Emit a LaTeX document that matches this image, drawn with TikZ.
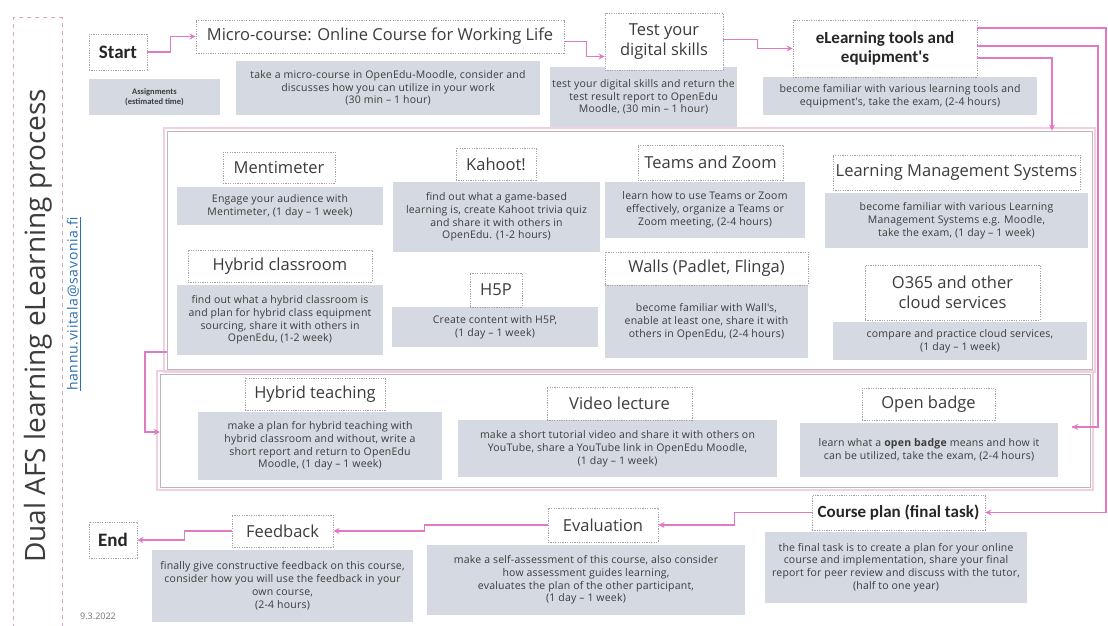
\documentclass[tikz,border=0pt]{standalone}
\usepackage{fontspec}
\setmainfont{Open Sans}
\newfontfamily\calfont{Carlito}
\newfontfamily\mailfont[LetterSpace=5]{Open Sans}
\newfontfamily\descfont[LetterSpace=2]{Open Sans}
\usetikzlibrary{arrows.meta,calc}
\definecolor{pinkc}{HTML}{E07AC6}
\definecolor{pinkdash}{HTML}{E6A2C4}
\definecolor{descfill}{HTML}{D5D9E1}
\definecolor{ttlgray}{HTML}{A9A1A9}
\definecolor{txtgray}{HTML}{3C3C3C}
\definecolor{framegray}{HTML}{BDB6BC}
\definecolor{framepink}{HTML}{F2CFE1}
\definecolor{mailblue}{HTML}{2A6FB0}
\tikzset{
  sz/.style 2 args={minimum width=#1pt, minimum height=#2pt},
  ttl/.style={draw=ttlgray, dash pattern=on 1.2pt off 1.2pt, line width=0.9pt, fill=white,
    inner sep=0pt, align=center, font=\fontsize{16.5}{20}\selectfont, text=txtgray},
  btl/.style={ttl, font=\calfont\bfseries\fontsize{17}{19.5}\selectfont, text=black!85},
  desc/.style={fill=descfill, inner sep=0pt, align=center,
    font=\descfont\fontsize{10.5}{12.8}\selectfont, text=txtgray},
  conn/.style={draw=pinkc, line width=1.3pt, -{Stealth[length=6pt,width=6pt]}},
  plain/.style={draw=pinkc, line width=1.3pt},
  frame/.style={draw=framegray, line width=0.8pt, inner sep=0pt},
  frameout/.style={draw=framepink, line width=2pt, inner sep=0pt}
}
\begin{document}
\begin{tikzpicture}[x=1pt,y=-1pt]
\clip (0,0) rectangle (1108,626);
\fill[white] (0,0) rectangle (1108,626);

% left title band
\node[draw=pinkdash, dash pattern=on 4pt off 4pt, line width=1pt, sz={49}{640}] (band) at (37.5,338) {};
\node[rotate=90, font=\fontsize{28}{32}\selectfont, text=txtgray] (title) at (38,326) {Dual AFS learning eLearning process};
\node[rotate=90, font=\mailfont\fontsize{14}{16}\selectfont, text=mailblue] (mail) at (74,304) {\underline{hannu.viitala@savonia.fi}};
\node[font=\fontsize{9}{11}\selectfont, text=black!55] (date) at (98,616) {9.3.2022};

% frames
\node[frameout, sz={931}{244}] (midout) at (629.5,250) {};
\node[frame, sz={925}{238}] (mid) at (629.5,250) {};
\node[frameout, sz={936}{119}] (botout) at (625,430.5) {};
\node[frame, sz={930}{113}] (bot) at (625,430.5) {};

% top row
\node[btl, sz={58}{36}, font=\calfont\bfseries\fontsize{19}{22}\selectfont] (start) at (118,52) {Start};
\node[desc, sz={131}{36}, font=\calfont\bfseries\fontsize{8.5}{10}\selectfont] (assign) at (154.5,97) {Assignments\\(estimated time)};
\node[desc, sz={304}{54}] (microD) at (388,88) {take a micro-course in OpenEdu-Moodle, consider and\\discusses how you can utilize in your work\\(30 min – 1 hour)};
\node[ttl, sz={368}{33}] (micro) at (380,36.5) {Micro-course: Online Course for Working Life};
\node[desc, sz={187}{60}] (testD) at (643.5,97) {test your digital skills and return the\\test result report to OpenEdu\\Moodle, (30 min – 1 hour)};
\node[ttl, sz={118}{57}] (test) at (664,41.5) {Test your\\digital skills};
\node[desc, sz={274}{38}] (eltD) at (900,96) {become familiar with various learning tools and\\equipment's, take the exam, (2-4 hours)};
\node[btl, sz={184}{57}] (elt) at (885,48.5) {eLearning tools and\\equipment's};

% middle section
\node[desc, sz={206}{38}] (mentiD) at (280,206) {Engage your audience with\\Mentimeter, (1 day – 1 week)};
\node[ttl, sz={112}{31}] (menti) at (279,167.5) {Mentimeter};
\node[desc, sz={207}{70}] (kahootD) at (496.5,217) {find out what a game-based\\learning is, create Kahoot trivia quiz\\and share it with others in\\OpenEdu. (1-2 hours)};
\node[ttl, sz={80}{32}] (kahoot) at (496,164) {Kahoot!};
\node[desc, sz={200}{56}] (teamsD) at (705,210) {learn how to use Teams or Zoom\\effectively, organize a Teams or\\Zoom meeting, (2-4 hours)};
\node[ttl, sz={145}{35}] (teams) at (710.5,162.5) {Teams and Zoom};
\node[desc, sz={263}{55}] (lmsD) at (956.5,220.5) {become familiar with various Learning\\Management Systems e.g. Moodle,\\take the exam, (1 day – 1 week)};
\node[ttl, sz={247}{35}] (lms) at (956.5,172.5) {Learning Management Systems};
\node[desc, sz={206}{70}] (hybcD) at (280,320) {find out what a hybrid classroom is\\and plan for hybrid class equipment\\sourcing, share it with others in\\OpenEdu, (1-2 week)};
\node[ttl, sz={184}{32}] (hybc) at (280,266) {Hybrid classroom};
\node[desc, sz={206}{40}] (h5pD) at (495,327) {Create content with H5P,\\(1 day – 1 week)};
\node[ttl, sz={52}{34}] (h5p) at (496,290) {H5P};
\node[desc, sz={203}{73}] (wallsD) at (706.5,321.5) {become familiar with Wall's,\\enable at least one, share it with\\others in OpenEdu, (2-4 hours)};
\node[ttl, sz={203}{33}] (walls) at (706.5,268.5) {Walls (Padlet, Flinga)};
\node[desc, sz={254}{38}] (o365D) at (960,341) {compare and practice cloud services,\\(1 day – 1 week)};
\node[ttl, sz={175}{55}] (o365) at (952.5,292.5) {O365 and other\\cloud services};

% bottom section
\node[desc, sz={244}{68}] (hybtD) at (320,446) {make a plan for hybrid teaching with\\hybrid classroom and without, write a\\short report and return to OpenEdu\\Moodle, (1 day – 1 week)};
\node[ttl, sz={140}{32}] (hybt) at (315,394) {Hybrid teaching};
\node[desc, sz={319}{57}] (videoD) at (617.5,448.5) {make a short tutorial video and share it with others on\\YouTube, share a YouTube link in OpenEdu Moodle,\\(1 day – 1 week)};
\node[ttl, sz={145}{33}] (video) at (619.5,403.5) {Video lecture};
\node[desc, sz={258}{54}] (badgeD) at (929,450) {learn what a \textbf{open badge} means and how it\\can be utilized, take the exam, (2-4 hours)};
\node[ttl, sz={133}{32}] (badge) at (928.5,404) {Open badge};

% last row
\node[desc, sz={262}{71}] (courseD) at (896,567.5) {the final task is to create a plan for your online\\course and implementation, share your final\\report for peer review and discuss with the tutor,\\(half to one year)};
\node[btl, sz={173}{35}] (course) at (898.5,512.5) {Course plan (final task)};
\node[desc, sz={318}{70}] (evalD) at (586,580) {make a self-assessment of this course, also consider\\how assessment guides learning,\\evaluates the plan of the other participant,\\(1 day – 1 week)};
\node[ttl, sz={110}{34}] (eval) at (603,525) {Evaluation};
\node[desc, sz={261}{72}] (fbD) at (282.5,586) {finally give constructive feedback on this course,\\consider how you will use the feedback in your\\own course,\\(2-4 hours)};
\node[ttl, sz={101}{32}] (fb) at (282.5,531) {Feedback};
\node[btl, sz={48}{36}, font=\calfont\bfseries\fontsize{19}{22}\selectfont] (endn) at (113,540) {End};

% connector coordinates
\coordinate (r1) at (1106,28);
\coordinate (r2) at (1098,46);
\coordinate (r3) at (1052,58);
\coordinate (bin) at (1072,427);
\coordinate (l1) at (145,352);
\coordinate (l2) at (160,432);

% connectors
\draw[conn] (start.east) -- ++(23,0) |- (micro.west);
\draw[conn] ([yshift=-5pt]micro.east) -- ++(22,0) |- ([yshift=-15pt]test.west);
\draw[conn] ([yshift=2pt]test.east) -- ++(34,0) |- (elt.west);
\draw[conn] (elt.east |- r1) -- (r1) |- (course.east);
\draw[plain] (elt.east |- r2) -- (r2) |- (bin);
\draw[conn] (r2 |- bin) -- (bin);
\draw[conn] (elt.east |- r3) -- (r3) -- (r3 |- mid.north);
\draw[conn] (mid.west |- l1) -- (l1) |- (l2);
\draw[conn] (course.west) -- ++(-77,0) |- (eval.east);
\draw[conn] (eval.west) -- ++(-123,0) |- (fb.east);
\draw[conn] (fb.west) -- ++(-47,0) |- (endn.east);
\end{tikzpicture}
\end{document}
